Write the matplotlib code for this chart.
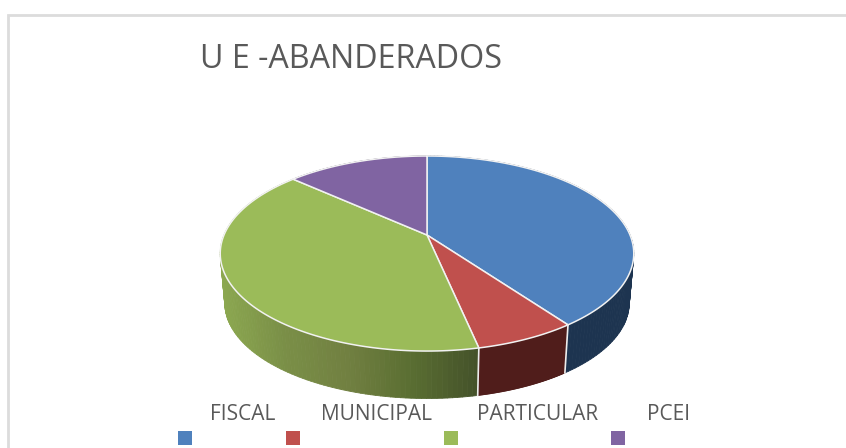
import numpy as np
import matplotlib
matplotlib.use("Agg")
import matplotlib.pyplot as plt
from matplotlib.collections import PolyCollection
from matplotlib.colors import LinearSegmentedColormap
from matplotlib.patches import Polygon, Rectangle

labels = ["FISCAL", "MUNICIPAL", "PARTICULAR", "PCEI"]
values = [30, 5, 30, 10]
colors = ["#4F81BD", "#C0504D", "#9BBB59", "#8064A2"]
side_colors = ["#1D3450", "#501D1B", None, "#3F3151"]
title = "U E -ABANDERADOS"

# pie geometry in pixels, with a bit of perspective
cx, cy = 427, 235
rx, ry = 203, 94
persp = 0.19
depth = 50
shrink = 0.978

plt.rcParams['font.family'] = ['Open Sans', 'DejaVu Sans']

fig = plt.figure(figsize=(8.46, 4.48), dpi=100)
ax = fig.add_axes([0, 0, 1, 1])
ax.set_xlim(0, 846)
ax.set_ylim(448, 0)
ax.axis("off")


def top_xy(theta):
    # theta in radians, clockwise from 12 o'clock
    u = np.sin(theta)
    v = -np.cos(theta)
    d = 1 - persp * v
    return cx + rx * u / d, cy + ry * v / d


def bottom_xy(theta):
    x, y = top_xy(theta)
    return cx + (x - cx) * shrink, cy + depth + (y - cy) * shrink


# page frame
ax.plot([8, 8, 846], [448, 15, 15], color="#DCDCDC", lw=2, solid_joinstyle="miter")

edges = 2 * np.pi * np.concatenate([[0], np.cumsum(values)]) / sum(values)
green_map = LinearSegmentedColormap.from_list("side", ["#8CA850", "#7A8F47", "#718041", "#5A6E32", "#45532A"])

# side wall, quads sorted back to front
quads = []
quad_cols = []
for i in range(len(values)):
    th = np.linspace(edges[i], edges[i + 1], 120)
    x1, y1 = top_xy(th)
    x2, y2 = bottom_xy(th)
    for j in range(len(th) - 1):
        quads.append([(x1[j], y1[j]), (x1[j + 1], y1[j + 1]), (x2[j + 1], y2[j + 1]), (x2[j], y2[j])])
        if side_colors[i] is None:
            quad_cols.append(green_map(np.clip((x1[j] - 221) / 257, 0, 1)))
        else:
            quad_cols.append(side_colors[i])
order = np.argsort([q[0][1] for q in quads])
ax.add_collection(PolyCollection([quads[k] for k in order], facecolors=[quad_cols[k] for k in order],
                                 edgecolors=[quad_cols[k] for k in order], linewidths=0.6))

# white seams between the side pieces
for e in edges[1:3]:
    x1, y1 = top_xy(e)
    x2, y2 = bottom_xy(e)
    ax.plot([x1, x2], [y1, y2], color="#EDEDED", lw=1.2)

# top face
for i in range(len(values)):
    th = np.linspace(edges[i], edges[i + 1], 200)
    x, y = top_xy(th)
    pts = np.column_stack([np.r_[cx, x], np.r_[cy, y]])
    ax.add_patch(Polygon(pts, closed=True, facecolor=colors[i], edgecolor="#F2F2F2", lw=1.1, joinstyle="round"))

ax.text(200, 60, title, fontsize=23.2, color="#595959", ha="left", va="center")

# legend, the labels sit above their keys
text_x = [210, 321, 477, 647]
key_x = [178, 286, 444, 611]
for i in range(len(labels)):
    ax.text(text_x[i], 415, labels[i], fontsize=15, color="#595959", ha="left", va="center")
    ax.add_patch(Rectangle((key_x[i], 431), 14, 14, facecolor=colors[i], edgecolor="none"))

fig.savefig("out.png", dpi=100)
